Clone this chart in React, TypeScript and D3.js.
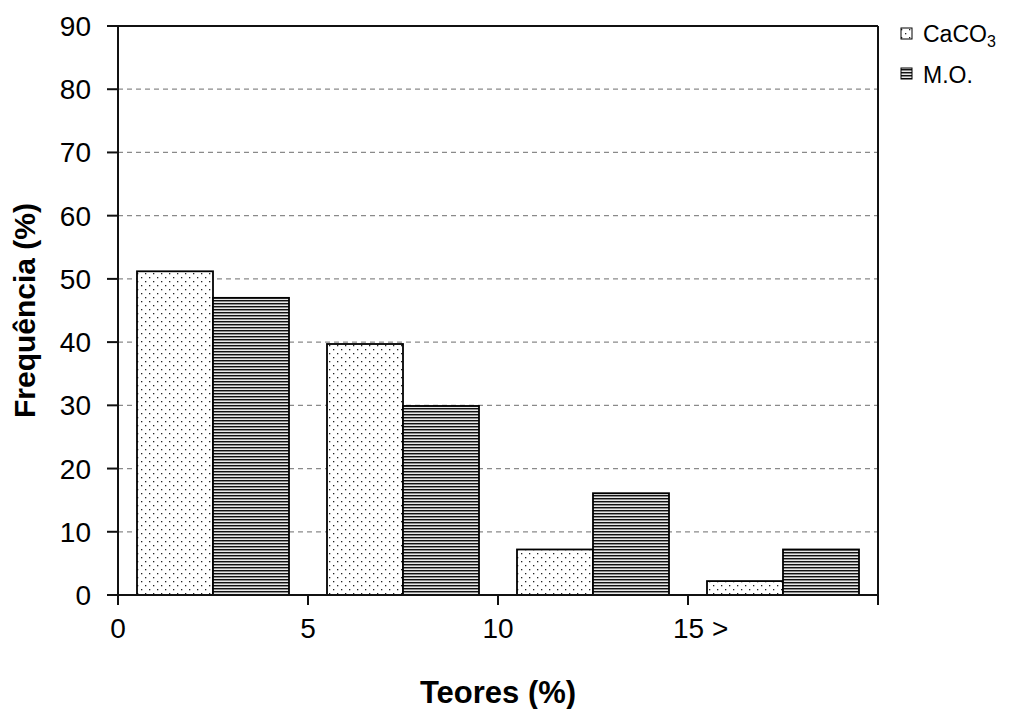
import React from "react";
import * as d3 from "d3";

const categories = ["0", "5", "10", "15 >"];
const seriesNames = ["CaCO3", "M.O."];
const caco3Values = [51.2, 39.7, 7.2, 2.2];
const moValues = [47.0, 29.9, 16.1, 7.2];
const yTicks = [0, 10, 20, 30, 40, 50, 60, 70, 80, 90];

const W = 1011;
const H = 709;
const margin = { left: 118, right: 878, top: 26, bottom: 595 };
const FONT = "'Liberation Sans', Arial, sans-serif";

export default function App() {
  const x0 = d3.scaleBand<string>().domain(categories).range([margin.left, margin.right]).padding(0);
  const x1 = d3
    .scaleBand<string>()
    .domain(seriesNames)
    .range([0, x0.bandwidth()])
    .paddingInner(0)
    .paddingOuter(0.25);
  const y = d3.scaleLinear().domain([0, 90]).range([margin.bottom, margin.top]);

  const seriesData: { name: string; values: number[]; fill: string }[] = [
    { name: "CaCO3", values: caco3Values, fill: "url(#dots)" },
    { name: "M.O.", values: moValues, fill: "url(#hlines)" },
  ];

  const boundaries = [...categories.map((c) => x0(c)!), margin.right];
  const lineColor = "#111";

  return (
    <svg width={W} height={H} style={{ position: "absolute", left: 0, top: 0, background: "#fff" }}>
      <defs>
        <pattern id="dots" width={8} height={8} patternUnits="userSpaceOnUse">
          <rect width={8} height={8} fill="#fff" />
          <rect x={1} y={1} width={1.3} height={1.3} fill="#222" />
          <rect x={5} y={5} width={1.3} height={1.3} fill="#222" />
        </pattern>
        <pattern id="hlines" width={3} height={3} patternUnits="userSpaceOnUse">
          <rect width={3} height={3} fill="#e8e8e8" />
          <rect y={0} width={3} height={1} fill="#111" />
          <rect y={1} width={3} height={1} fill="#8a8a8a" />
        </pattern>
      </defs>

      {/* gridlines */}
      {yTicks
        .filter((t) => t > 0 && t < 90)
        .map((t) => (
          <line
            key={"g" + t}
            x1={margin.left}
            x2={margin.right}
            y1={y(t)}
            y2={y(t)}
            stroke="#8a8a8a"
            strokeWidth={1.3}
            strokeDasharray="5,4"
          />
        ))}

      {/* bars */}
      {seriesData.map((s) =>
        categories.map((c, i) => (
          <rect
            key={s.name + c}
            x={x0(c)! + x1(s.name)!}
            y={y(s.values[i])}
            width={x1.bandwidth()}
            height={y(0) - y(s.values[i])}
            fill={s.fill}
            stroke="#000"
            strokeWidth={1.8}
          />
        ))
      )}

      {/* frame */}
      <line x1={margin.left - 11} x2={margin.right} y1={margin.top} y2={margin.top} stroke={lineColor} strokeWidth={2} />
      <line x1={margin.right} x2={margin.right} y1={margin.top} y2={margin.bottom + 10} stroke={lineColor} strokeWidth={2} />
      <line x1={margin.left} x2={margin.left} y1={margin.top} y2={margin.bottom + 10} stroke={lineColor} strokeWidth={2} />
      <line x1={margin.left - 11} x2={margin.right} y1={margin.bottom} y2={margin.bottom} stroke={lineColor} strokeWidth={2} />

      {/* y ticks */}
      {yTicks.map((t) => (
        <g key={"yt" + t}>
          <line x1={margin.left - 11} x2={margin.left} y1={y(t)} y2={y(t)} stroke={lineColor} strokeWidth={2} />
          <text x={91} y={y(t) + 10} textAnchor="end" fontFamily={FONT} fontSize={28} fill="#000">
            {t}
          </text>
        </g>
      ))}

      {/* x ticks */}
      {boundaries.map((b, i) => (
        <line key={"xt" + i} x1={b} x2={b} y1={margin.bottom} y2={margin.bottom + 10} stroke={lineColor} strokeWidth={2} />
      ))}
      {categories.map((c) =>
        c.includes(">") ? (
          <text key={"xl" + c} x={x0(c)! - 15} y={638} textAnchor="start" fontFamily={FONT} fontSize={28} fill="#000">
            {c}
          </text>
        ) : (
          <text key={"xl" + c} x={x0(c)!} y={638} textAnchor="middle" fontFamily={FONT} fontSize={28} fill="#000">
            {c}
          </text>
        )
      )}

      {/* axis titles */}
      <text
        x={(margin.left + margin.right) / 2}
        y={703}
        textAnchor="middle"
        fontFamily={FONT}
        fontSize={31}
        fontWeight="bold"
        fill="#000"
      >
        Teores (%)
      </text>
      <text
        transform={`translate(35, ${(margin.top + margin.bottom) / 2}) rotate(-90)`}
        textAnchor="middle"
        fontFamily={FONT}
        fontSize={30}
        fontWeight="bold"
        fill="#000"
      >
        Frequência (%)
      </text>

      {/* legend */}
      <g>
        <rect x={901} y={28} width={11} height={11} fill="url(#dots)" stroke="#000" strokeWidth={1} />
        <text x={923} y={42} fontFamily={FONT} fontSize={23} fill="#000">
          CaCO<tspan fontSize={16} dy={5}>3</tspan>
        </text>
        <rect x={901} y={68} width={11} height={11} fill="url(#hlines)" stroke="#000" strokeWidth={1} />
        <text x={923} y={83} fontFamily={FONT} fontSize={23} fill="#000">
          M.O.
        </text>
      </g>
    </svg>
  );
}
